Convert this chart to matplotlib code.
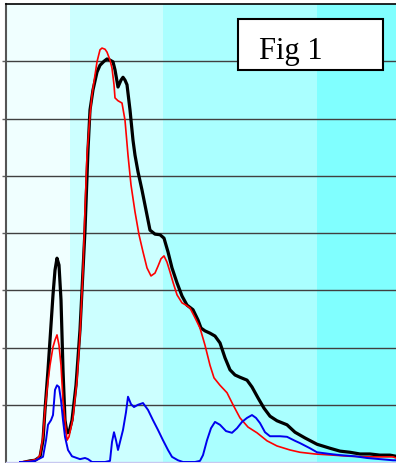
import matplotlib.pyplot as plt
from matplotlib.patches import Rectangle

# (x in sample units, y in gridline units)
black_x = [19, 24, 29, 34, 37, 39, 42, 44, 47, 49, 51, 53, 55, 57, 59, 61, 63, 66, 70, 74,
           77, 79, 82, 84, 87, 91, 94, 98, 101, 104, 107, 109, 112, 115, 117, 119, 121, 124, 127, 129,
           132, 136, 140, 144, 149, 154, 158, 162, 166, 171, 176, 181, 187, 192, 195, 199, 204, 209, 214, 219,
           224, 229, 234, 241, 246, 252, 258, 264, 271, 281, 289, 299, 311, 324, 334, 344, 354, 364, 374, 384, 390]
black_y = [0, 0.02, 0.03, 0.09, 0.38, 0.91, 1.61, 2.13, 2.92, 3.35, 3.56, 3.44, 2.83, 1.61, 0.73, 0.51, 0.52, 0.73, 1.34, 2.31,
           3.35, 4.05, 5.45, 6.15, 6.50, 6.81, 6.93, 7.00, 7.04, 7.02, 6.99, 6.85, 6.55, 6.67, 6.72, 6.67, 6.59, 6.15, 5.62, 5.36,
           5.07, 4.75, 4.40, 4.05, 3.98, 3.97, 3.91, 3.67, 3.39, 3.13, 2.90, 2.74, 2.66, 2.48, 2.34, 2.29, 2.25, 2.20, 2.08, 1.82,
           1.61, 1.52, 1.48, 1.43, 1.31, 1.12, 0.94, 0.80, 0.72, 0.65, 0.52, 0.42, 0.31, 0.24, 0.19, 0.17, 0.14, 0.14, 0.12, 0.12, 0.10]

red_x = [14, 24, 31, 34, 37, 39, 41, 44, 47, 49, 51, 53, 55, 57, 59, 61, 63, 67, 71, 74,
         77, 79, 81, 84, 86, 89, 91, 94, 96, 99, 101, 104, 106, 108, 109, 112, 116, 119, 122, 125,
         129, 133, 137, 141, 145, 149, 152, 155, 158, 161, 164, 167, 171, 176, 180, 184, 189, 194, 199, 204,
         208, 214, 221, 227, 234, 242, 251, 261, 271, 284, 294, 309, 327, 344, 361, 374, 387, 390]
red_y = [0, 0.02, 0.05, 0.12, 0.44, 0.91, 1.26, 1.69, 2.01, 2.13, 2.22, 2.04, 1.69, 1.08, 0.73, 0.38, 0.44, 0.77, 1.43, 2.22,
         3.35, 4.40, 5.36, 6.06, 6.41, 6.76, 6.99, 7.20, 7.23, 7.21, 7.16, 7.02, 6.88, 6.59, 6.36, 6.31, 6.27, 5.97, 5.36, 4.84,
         4.37, 3.97, 3.67, 3.39, 3.25, 3.30, 3.42, 3.55, 3.60, 3.49, 3.32, 3.14, 2.92, 2.78, 2.74, 2.69, 2.52, 2.34, 2.04, 1.69,
         1.47, 1.34, 1.21, 1.00, 0.77, 0.61, 0.51, 0.37, 0.28, 0.21, 0.17, 0.14, 0.12, 0.10, 0.09, 0.09, 0.09, 0.07]

blue_x = [14, 21, 29, 37, 40, 42, 45, 47, 49, 51, 53, 55, 57, 59, 62, 66, 74, 79, 82, 86,
          99, 104, 106, 108, 110, 112, 114, 117, 120, 122, 125, 128, 132, 137, 142, 147, 152, 157, 162, 166,
          172, 177, 189, 194, 197, 201, 205, 209, 214, 220, 226, 231, 236, 241, 246, 250, 254, 259, 264, 274,
          281, 289, 294, 304, 311, 324, 334, 349, 361, 374, 387, 390]
blue_y = [0, 0, 0.02, 0.09, 0.38, 0.65, 0.73, 0.82, 1.26, 1.34, 1.31, 1.08, 0.73, 0.44, 0.21, 0.10, 0.05, 0.07, 0.05, 0,
          0, 0.02, 0.35, 0.52, 0.38, 0.21, 0.35, 0.56, 0.87, 1.14, 1.01, 0.96, 1.00, 1.03, 0.91, 0.73, 0.56, 0.38, 0.21, 0.09,
          0.03, 0, 0, 0.02, 0.12, 0.38, 0.59, 0.70, 0.65, 0.54, 0.51, 0.59, 0.70, 0.77, 0.82, 0.77, 0.68, 0.52, 0.45, 0.45,
          0.44, 0.37, 0.33, 0.24, 0.17, 0.14, 0.12, 0.10, 0.07, 0.05, 0.03, 0.03]

# shaded bands behind the curves
band_edges = [0, 64, 157, 311, 390]
band_colors = ['#f0ffff', '#ccffff', '#aaffff', '#80ffff']

fig = plt.figure(figsize=(3.96, 4.63), dpi=100)
ax = fig.add_axes([6/396, 1/463, 390/396, 458/463])

for i, c in enumerate(band_colors):
    ax.axvspan(band_edges[i], band_edges[i + 1], color=c, zorder=0, lw=0)

for g in range(1, 8):
    ax.axhline(g, color='#404040', lw=1, zorder=1)

ax.plot(black_x, black_y, color='black', lw=2.3, zorder=3)
ax.plot(red_x, red_y, color='#ff0000', lw=1.2, zorder=4)
ax.plot(blue_x, blue_y, color='#0000ee', lw=1.4, zorder=5)

ax.set_xlim(0, 390)
ax.set_ylim(0, 8)
ax.set_xticks([])
ax.set_yticks(range(1, 8))
ax.set_yticklabels([])
ax.tick_params(axis='y', length=3, width=1, color='#606060', direction='out')

ax.spines['right'].set_visible(False)
ax.spines['top'].set_color('black')
ax.spines['top'].set_linewidth(1.2)
ax.spines['left'].set_color('#555555')
ax.spines['left'].set_linewidth(1.5)
ax.spines['bottom'].set_color('#c8c8f0')
ax.spines['bottom'].set_linewidth(1)

# the "Fig 1" label box
box = Rectangle((0.595, 0.856), 0.372, 0.111, transform=ax.transAxes,
                facecolor='white', edgecolor='black', lw=1.5, zorder=6)
ax.add_patch(box)
txt = ax.text(0.649, 0.880, 'Fig 1', transform=ax.transAxes, fontsize=22,
              family='Liberation Serif', ha='left', va='baseline', zorder=7)
clip = Rectangle((0.595, 0.8755), 0.372, 0.09, transform=ax.transAxes)
txt.set_clip_path(clip)

fig.savefig('out.png', dpi=100)
